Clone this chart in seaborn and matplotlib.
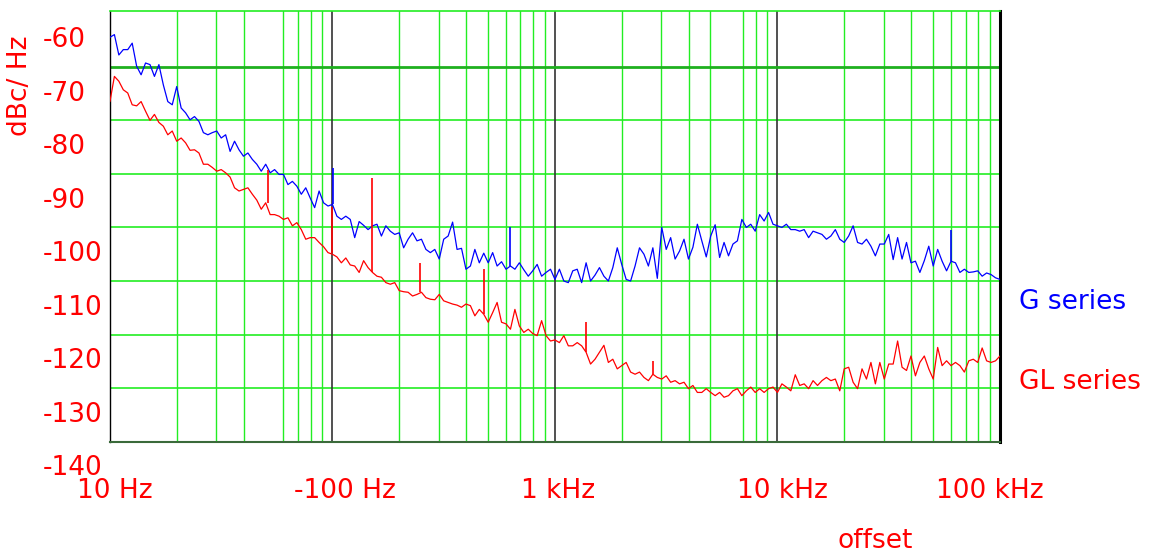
import numpy as np
import matplotlib.pyplot as plt
import matplotlib.transforms as mtransforms
import seaborn as sns
import pandas as pd

# offset frequency grid (Hz), 50 points per decade
freq = np.logspace(1, 5, 201)

# phase noise readings, dBc/Hz
g_dbc = [
    -59.5, -59.0, -62.8, -61.8, -61.8, -60.6, -64.9, -66.5, -64.3, -64.6,
    -66.8, -64.6, -68.4, -71.5, -72.1, -68.7, -72.7, -73.6, -74.9, -74.3,
    -75.2, -77.3, -77.7, -77.3, -77.0, -78.3, -77.7, -80.8, -78.9, -80.5,
    -81.7, -81.1, -82.3, -83.2, -84.5, -83.2, -84.8, -84.2, -85.1, -85.1,
    -87.0, -86.4, -87.3, -88.8, -87.6, -89.5, -91.3, -88.2, -90.4, -91.0,
    -90.7, -92.9, -93.5, -92.9, -93.5, -96.9, -93.9, -94.6, -95.4, -94.7,
    -94.4, -96.6, -94.7, -95.7, -96.3, -96.0, -98.8, -97.2, -96.0, -97.5,
    -97.2, -99.1, -99.7, -99.1, -100.9, -97.2, -96.6, -94.0, -99.1, -98.9,
    -102.8, -102.2, -99.1, -101.6, -99.8, -101.6, -99.7, -102.2, -101.4, -102.8,
    -102.2, -102.8, -101.6, -102.9, -104.1, -103.1, -101.9, -104.1, -103.4, -102.8,
    -104.7, -102.8, -105.0, -105.3, -103.1, -102.8, -105.3, -101.6, -105.0, -103.9,
    -102.5, -104.1, -105.0, -102.5, -98.8, -101.9, -104.7, -105.0, -102.2, -98.8,
    -100.0, -102.2, -98.8, -104.5, -95.0, -99.1, -96.9, -100.9, -99.4, -97.2,
    -100.9, -98.7, -94.4, -97.5, -100.5, -96.6, -94.5, -100.6, -97.8, -100.3,
    -98.1, -97.5, -93.5, -95.0, -94.4, -95.7, -92.6, -93.8, -92.2, -94.4,
    -94.7, -95.0, -94.4, -95.4, -95.4, -95.7, -95.4, -96.9, -95.7, -96.0,
    -96.3, -97.2, -96.6, -95.4, -97.2, -97.8, -96.6, -94.7, -97.8, -98.1,
    -97.2, -98.5, -100.3, -98.1, -98.1, -96.3, -101.0, -96.9, -100.9, -97.8,
    -101.6, -101.3, -103.4, -101.2, -98.5, -102.2, -99.1, -101.3, -103.1, -101.3,
    -101.6, -103.4, -102.8, -103.4, -103.3, -103.1, -104.1, -103.5, -103.8, -104.4,
    -104.7,
]
gl_dbc = [
    -71.5, -66.8, -67.7, -69.3, -69.9, -72.1, -72.3, -71.5, -73.3, -75.0,
    -73.9, -75.4, -76.1, -77.7, -77.0, -78.9, -78.3, -79.2, -80.6, -80.5,
    -81.1, -83.2, -83.2, -83.8, -84.5, -84.2, -84.8, -85.6, -87.6, -88.2,
    -87.9, -87.6, -88.8, -89.9, -91.6, -90.4, -92.6, -92.6, -92.9, -93.5,
    -93.2, -94.7, -94.1, -95.4, -97.2, -96.9, -96.9, -97.8, -98.6, -99.7,
    -100.0, -100.5, -101.6, -100.7, -102.0, -102.2, -103.4, -101.2, -102.5, -103.4,
    -104.1, -104.3, -105.3, -105.6, -105.3, -106.8, -107.0, -107.1, -107.8, -107.5,
    -107.1, -108.1, -108.4, -108.5, -107.5, -108.7, -109.0, -109.3, -109.5, -109.9,
    -109.3, -109.6, -111.5, -110.3, -111.2, -112.7, -110.9, -109.0, -112.7, -113.0,
    -114.0, -110.3, -113.4, -114.6, -114.0, -114.8, -115.2, -112.4, -115.2, -116.2,
    -116.0, -116.5, -115.2, -117.1, -117.1, -116.5, -117.1, -118.3, -120.5, -119.6,
    -118.3, -117.0, -120.2, -119.6, -121.4, -120.8, -120.2, -122.0, -122.4, -122.0,
    -123.0, -123.6, -122.4, -123.0, -123.3, -122.7, -123.9, -123.6, -124.2, -123.9,
    -125.1, -124.5, -125.8, -125.8, -125.1, -125.8, -126.4, -125.8, -126.7, -126.4,
    -125.5, -125.1, -126.4, -125.5, -124.8, -125.8, -125.1, -125.8, -125.1, -124.8,
    -125.8, -124.2, -124.8, -125.5, -122.5, -124.5, -124.2, -125.1, -123.6, -124.5,
    -123.6, -123.0, -123.6, -123.3, -125.5, -121.4, -121.1, -123.9, -125.1, -121.4,
    -123.3, -120.2, -124.2, -120.2, -123.3, -120.5, -120.5, -116.2, -121.1, -121.7,
    -119.0, -122.7, -120.2, -119.0, -121.4, -123.3, -117.4, -120.8, -119.9, -120.8,
    -120.2, -120.8, -122.0, -119.9, -119.6, -120.2, -117.5, -119.9, -120.2, -119.9,
    -119.0,
]

# narrow spurs (Hz, top dBc, base dBc)
g_spur_freq = [101, 628, 60000]
g_spur_top = [-83.9, -95.0, -95.4]
g_spur_base = [-90.7, -102.2, -101.3]
gl_spur_freq = [51.2, 100, 151, 247, 481, 1377, 2768]
gl_spur_top = [-84.2, -91.1, -85.7, -101.6, -102.8, -112.7, -119.9]
gl_spur_base = [-90.5, -99.8, -103.4, -107.1, -111.2, -118.3, -122.4]

x_ticks = [10, 100, 1000, 10000, 100000]
x_labels = ['10 Hz', '-100 Hz', '1 kHz', '10 kHz', '100 kHz']
y_labels = [-60, -70, -80, -90, -100, -110, -120, -130, -140]
grid_y = [-65, -75, -85, -95, -105, -115, -125]
# the original plot drops two of the minor verticals
missing_minor = [50, 6000]

RED = '#ff0000'
BLUE = '#0000ff'
GREEN = '#22ee22'

df = pd.concat([
    pd.DataFrame({'freq': freq, 'dbc': g_dbc, 'series': 'G series'}),
    pd.DataFrame({'freq': freq, 'dbc': gl_dbc, 'series': 'GL series'}),
])

sns.set_style('white')
fig = plt.figure(figsize=(11.61, 5.52), dpi=100)
ax = fig.add_axes([0.0947, 0.1998, 0.7666, 0.7802])

# grid
for d in [10, 100, 1000, 10000]:
    for k in range(2, 10):
        if k * d in missing_minor:
            continue
        ax.axvline(k * d, color=GREEN, lw=1.0, zorder=0.5)
for d in [100, 1000, 10000]:
    ax.axvline(d, color='#333333', lw=1.2, zorder=0.6)
for v in grid_y:
    if v == -65:
        ax.axhline(v, color='#1fb01f', lw=2.0, zorder=0.6)
    else:
        ax.axhline(v, color=GREEN, lw=1.2, zorder=0.5)

sns.lineplot(data=df, x='freq', y='dbc', hue='series',
             palette={'G series': BLUE, 'GL series': RED},
             estimator=None, lw=0.9, legend=False, ax=ax, zorder=3)
ax.vlines(g_spur_freq, g_spur_base, g_spur_top, color=BLUE, lw=1.2, zorder=3)
ax.vlines(gl_spur_freq, gl_spur_base, gl_spur_top, color=RED, lw=1.2, zorder=3)

ax.set_xscale('log')
ax.set_xlim(10, 100000)
ax.set_ylim(-135, -54.6)
ax.set_xlabel('')
ax.set_ylabel('')
ax.set_yticks([])
ax.set_xticks(x_ticks, x_labels)
ax.xaxis.set_minor_locator(plt.NullLocator())
ax.tick_params(axis='x', length=0, pad=26, labelsize=19, labelcolor=RED)

# nudge x labels like the original
x_label_shift = [5, 12, 3, 5, -10]
for lab, dx in zip(ax.get_xticklabels(), x_label_shift):
    lab.set_transform(lab.get_transform() +
                      mtransforms.ScaledTranslation(dx / 100, 0, fig.dpi_scale_trans))

# y labels sit half a grid step off the lines, -140 below the frame
ytrans = mtransforms.blended_transform_factory(ax.transAxes, ax.transData)
for v in y_labels:
    ax.text(-0.0753, v, str(v), transform=ytrans, ha='left', va='center',
            fontsize=19, color=RED, clip_on=False)

for side in ['left', 'right', 'top', 'bottom']:
    ax.spines[side].set_visible(True)
ax.spines['left'].set_color('black')
ax.spines['left'].set_linewidth(1.0)
ax.spines['right'].set_color('black')
ax.spines['right'].set_linewidth(2.2)
ax.spines['top'].set_color(GREEN)
ax.spines['top'].set_linewidth(1.2)
ax.spines['bottom'].set_color('#3a6a3a')
ax.spines['bottom'].set_linewidth(1.5)

ax.text(1.021, 0.324, 'G series', transform=ax.transAxes, ha='left',
        va='center', fontsize=19, color=BLUE, clip_on=False)
ax.text(1.021, 0.139, 'GL series', transform=ax.transAxes, ha='left',
        va='center', fontsize=19, color=RED, clip_on=False)

fig.text(0.0172, 0.844, 'dBc/ Hz', rotation=90, ha='center', va='center',
         fontsize=19, color=RED)
fig.text(0.7537, 0.02, 'offset', ha='center', va='center', fontsize=19, color=RED)

fig.savefig('out.png', dpi=100)
